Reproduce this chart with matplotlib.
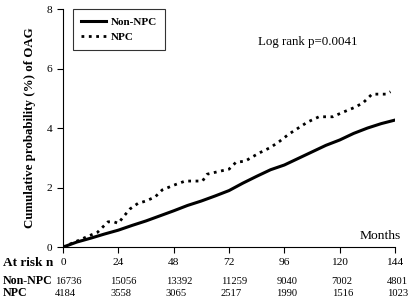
import numpy as np
import matplotlib.pyplot as plt
import matplotlib.transforms as mtransforms

plt.rcParams['font.family'] = ['Liberation Serif', 'DejaVu Serif']

# Cumulative probability (%)
months_non = [0, 6, 12, 18, 24, 30, 36, 42, 48, 54, 60, 66, 72, 78, 84, 90, 96, 102, 108, 114, 120, 126, 132, 138, 144]
non_npc = [0, 0.17, 0.3, 0.44, 0.57, 0.73, 0.88, 1.05, 1.22, 1.4, 1.55, 1.72, 1.9, 2.15, 2.38, 2.6, 2.76, 2.98, 3.2, 3.42, 3.6, 3.82, 4.0, 4.15, 4.27]

months_npc = [0, 6, 11, 15, 19.5, 22, 24, 26, 29, 32.5, 36, 40, 43, 48, 53, 57, 60.5, 62.5, 68, 72, 75, 79, 85, 90, 94, 98, 102, 106, 111, 114, 117, 121, 126, 130, 134, 140, 142]
npc = [0, 0.2, 0.37, 0.5, 0.85, 0.85, 0.8, 1.0, 1.28, 1.47, 1.55, 1.69, 1.92, 2.08, 2.22, 2.22, 2.22, 2.45, 2.55, 2.62, 2.85, 2.89, 3.16, 3.35, 3.56, 3.8, 4.0, 4.2, 4.38, 4.38, 4.38, 4.52, 4.68, 4.84, 5.14, 5.14, 5.22]

risk_months = [0, 24, 48, 72, 96, 120, 144]
risk_non = [16736, 15056, 13392, 11259, 9040, 7002, 4801]
risk_npc = [4184, 3558, 3065, 2517, 1990, 1516, 1023]

fig = plt.figure(figsize=(4.09, 3.01), dpi=100)
ax = fig.add_axes([0.154, 0.179, 0.812, 0.791])

ax.plot(months_non, non_npc, '-', color='black', linewidth=2.2, label='Non-NPC')
ax.plot(months_npc, npc, ':', color='black', linewidth=2.0, label='NPC')

ax.set_xlim(0, 144)
ax.set_ylim(0, 8)
ax.set_xticks(risk_months)
ax.set_xticklabels([])
ax.set_yticks([0, 2, 4, 6, 8])
ax.tick_params(axis='both', labelsize=8.2, length=4, direction='out')
for s in ['top', 'right']:
    ax.spines[s].set_visible(False)

ax.set_ylabel('Cumulative probability (%) of OAG', fontsize=9.3, fontweight='bold', labelpad=8)

leg = ax.legend(loc='upper left', bbox_to_anchor=(0.03, 1.0), borderaxespad=0,
                prop={'weight': 'bold', 'size': 8}, frameon=True, fancybox=False,
                edgecolor='black', handlelength=2.2, borderpad=0.75, labelspacing=0.45,
                handletextpad=0.45)
leg.get_frame().set_linewidth(0.8)

ax.text(0.738, 0.861, 'Log rank p=0.0041', transform=ax.transAxes, ha='center', va='center', fontsize=9.3)
ax.text(1.018, 0.02, 'Months', transform=ax.transAxes, ha='right', va='bottom', fontsize=9.7)

trans = mtransforms.blended_transform_factory(ax.transData, fig.transFigure)
rows_y = [1 - 262.5 / 301, 1 - 281 / 301, 1 - 293.5 / 301]
fig.text(0.007, rows_y[0], 'At risk n', fontsize=9.5, fontweight='bold', va='center')
fig.text(0.007, rows_y[1], 'Non-NPC', fontsize=8.6, fontweight='bold', va='center')
fig.text(0.007, rows_y[2], 'NPC', fontsize=8.6, fontweight='bold', va='center')
for m, a, b in zip(risk_months, risk_non, risk_npc):
    ax.text(m, rows_y[0], str(m), transform=trans, ha='center', va='center', fontsize=8.2)
    ax.text(m - 3.5, rows_y[1], str(a), transform=trans, ha='left', va='center', fontsize=7.6)
    ax.text(m - 3.5, rows_y[2], str(b), transform=trans, ha='left', va='center', fontsize=7.6)

fig.savefig('out.png', dpi=100)
